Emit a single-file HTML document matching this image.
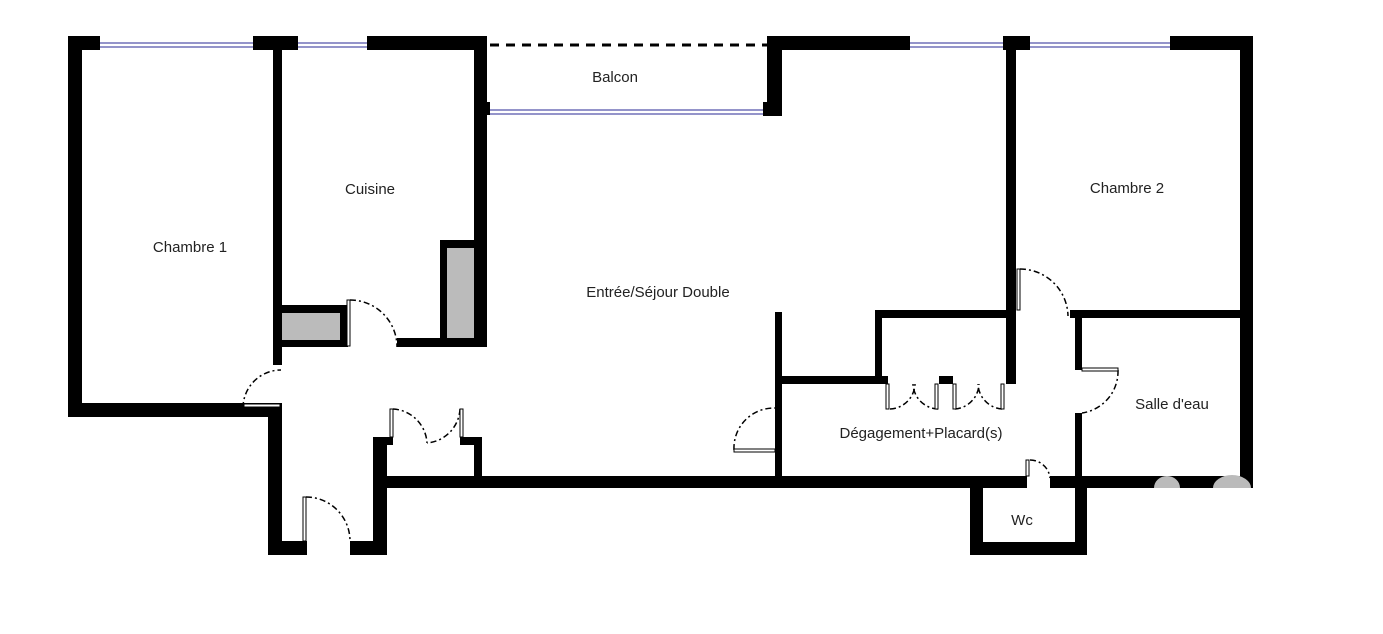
<!DOCTYPE html>
<html><head><meta charset="utf-8"><style>
html,body{margin:0;padding:0;background:#fff;width:1383px;height:634px;overflow:hidden}
svg text{font-family:"Liberation Sans",sans-serif;font-size:15px;fill:#222;text-anchor:middle}
</style></head><body>
<svg width="1383" height="634" viewBox="0 0 1383 634" xmlns="http://www.w3.org/2000/svg">
<g fill="#000">
<rect x="68" y="36" width="32" height="14"/>
<rect x="253" y="36" width="45" height="14"/>
<rect x="367" y="36" width="120" height="14"/>
<rect x="770" y="36" width="140" height="14"/>
<rect x="1003" y="36" width="27" height="14"/>
<rect x="1170" y="36" width="83" height="14"/>
<rect x="68" y="36" width="14" height="381"/>
<rect x="68" y="403" width="214" height="14"/>
<rect x="268" y="403" width="14" height="152"/>
<rect x="268" y="541" width="39" height="14"/>
<rect x="350" y="541" width="37" height="14"/>
<rect x="373" y="437" width="14" height="118"/>
<rect x="373" y="437" width="20" height="8"/>
<rect x="460" y="437" width="22" height="8"/>
<rect x="474" y="437" width="8" height="45"/>
<rect x="273" y="50" width="9" height="315"/>
<rect x="474" y="36" width="13" height="311"/>
<rect x="480" y="102" width="10" height="13"/>
<rect x="282" y="305" width="66" height="42"/>
<rect x="397" y="338" width="90" height="9"/>
<rect x="440" y="240" width="47" height="107"/>
<rect x="767" y="36" width="15" height="80"/>
<rect x="763" y="102" width="19" height="14"/>
<rect x="380" y="476" width="647" height="12"/>
<rect x="1050" y="476" width="203" height="12"/>
<rect x="1240" y="36" width="13" height="452"/>
<rect x="1006" y="50" width="10" height="334"/>
<rect x="876" y="310" width="140" height="8"/>
<rect x="1070" y="310" width="183" height="8"/>
<rect x="775" y="312" width="7" height="170"/>
<rect x="782" y="376" width="106" height="8"/>
<rect x="875" y="310" width="7" height="74"/>
<rect x="939" y="376" width="14" height="8"/>
<rect x="1075" y="318" width="7" height="52"/>
<rect x="1075" y="413" width="7" height="75"/>
<rect x="970" y="482" width="13" height="73"/>
<rect x="1075" y="482" width="12" height="73"/>
<rect x="970" y="542" width="117" height="13"/>
</g>
<g fill="#bbb">
<rect x="282" y="313" width="58" height="27"/>
<rect x="447" y="248" width="27" height="90"/>
<path d="M1154 488 a13 12 0 0 1 26 0z"/>
<path d="M1213 488 a19 13 0 0 1 38 0z"/>
</g>
<g stroke="#5555aa" stroke-width="1.3">
<line x1="100" y1="43" x2="253" y2="43"/><line x1="100" y1="47" x2="253" y2="47"/>
<line x1="298" y1="43" x2="367" y2="43"/><line x1="298" y1="47" x2="367" y2="47"/>
<line x1="910" y1="43" x2="1003" y2="43"/><line x1="910" y1="47" x2="1003" y2="47"/>
<line x1="1030" y1="43" x2="1170" y2="43"/><line x1="1030" y1="47" x2="1170" y2="47"/>
<line x1="490" y1="110" x2="763" y2="110"/><line x1="490" y1="114" x2="763" y2="114"/>
</g>
<line x1="490" y1="45" x2="767" y2="45" stroke="#000" stroke-width="3" stroke-dasharray="9 7"/>
<g fill="none" stroke="#000" stroke-width="1.5" stroke-dasharray="6 3 2 3">
<path d="M350 300 A47 47 0 0 1 397 347"/>
<path d="M243 408 A38 38 0 0 1 281 370"/>
<path d="M306 497 A44 44 0 0 1 350 541"/>
<path d="M393 409 A36 36 0 0 1 427 443"/>
<path d="M460 409 A36 36 0 0 1 427 443"/>
<path d="M734 450 A40 40 0 0 1 775 408"/>
<path d="M1020 269 A48 48 0 0 1 1068 316"/>
<path d="M1118 370 A42 42 0 0 1 1082 413"/>
<path d="M890 409 A26 26 0 0 0 915 384"/>
<path d="M938 409 A26 26 0 0 1 913 384"/>
<path d="M955 409 A26 26 0 0 0 979 384"/>
<path d="M1002 409 A26 26 0 0 1 978 384"/>
<path d="M1030 460 A20 20 0 0 1 1050 478"/>
</g>
<g fill="#fff" stroke="#000" stroke-width="1">
<rect x="347" y="300" width="3" height="46"/>
<rect x="244" y="404" width="36" height="3"/>
<rect x="303" y="497" width="3" height="44"/>
<rect x="390" y="409" width="3" height="28"/>
<rect x="460" y="409" width="3" height="28"/>
<rect x="734" y="449" width="41" height="3"/>
<rect x="1017" y="269" width="3" height="41"/>
<rect x="1082" y="368" width="36" height="3"/>
<rect x="886" y="384" width="3" height="25"/>
<rect x="935" y="384" width="3" height="25"/>
<rect x="953" y="384" width="3" height="25"/>
<rect x="1001" y="384" width="3" height="25"/>
<rect x="1026" y="460" width="3" height="16"/>
</g>
<text x="190" y="252">Chambre 1</text>
<text x="370" y="194">Cuisine</text>
<text x="615" y="82">Balcon</text>
<text x="658" y="297">Entrée/Séjour Double</text>
<text x="1127" y="193">Chambre 2</text>
<text x="1172" y="409">Salle d'eau</text>
<text x="921" y="438">Dégagement+Placard(s)</text>
<text x="1022" y="525">Wc</text>
</svg>
</body></html>
